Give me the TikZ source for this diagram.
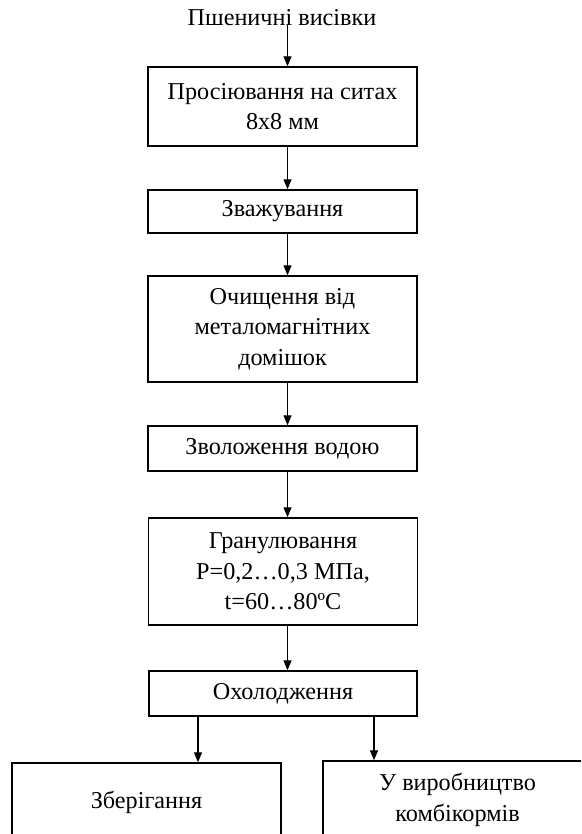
\documentclass[tikz,border=0pt]{standalone}
\usepackage{fontspec}
\setmainfont{Liberation Serif}
\usetikzlibrary{arrows.meta}
\begin{document}
\begin{tikzpicture}[x=1pt,y=-1pt,
  txt/.style={font=\fontsize{24.2}{30.5}\selectfont, align=center, inner sep=0pt},
  box/.style={txt, draw, line width=1.4pt, minimum width=269pt},
  arr/.style={line width=1.2pt, -{Triangle[width=8pt,length=10pt]}}]
\useasboundingbox (0,0) rectangle (581,834);
\clip (0,0) rectangle (581,834);
\fill[white] (0,0) rectangle (581,834);
\coordinate (ax) at (287.5,0);
\coordinate (lx) at (198,0);
\coordinate (rx) at (374,0);
\coordinate (s0) at (287.5,25);
\node[txt] (t) at (282,18) {Пшеничні висівки};
\node[box, minimum height=79pt] (b1) at (282.5,106.5) {Просіювання на ситах\\8х8 мм};
\node[box, minimum height=43pt] (b2) at (282.5,211.5) {Зважування};
\node[box, minimum height=106pt] (b3) at (282.5,329) {Очищення від\\металомагнітних\\домішок};
\node[box, minimum height=45pt] (b4) at (282.5,448.5) {Зволоження водою};
\node[box, minimum height=107pt] (b5) at (283,571.5) {Гранулювання\\P=0,2\dots0,3 МПа,\\t=60\dots80ºС};
\node[box, minimum height=45pt, minimum width=268pt] (b6) at (283,693.5) {Охолодження};
\node[box, minimum height=78pt] (b7) at (146.5,802) {Зберігання};
\node[box, minimum height=78pt] (b8) at (457.5,800) {У виробництво\\комбікормів};
\draw[arr] (s0) -- (b1.north -| ax);
\draw[arr] (b1.south -| ax) -- (b2.north -| ax);
\draw[arr] (b2.south -| ax) -- (b3.north -| ax);
\draw[arr] (b3.south -| ax) -- (b4.north -| ax);
\draw[arr] (b4.south -| ax) -- (b5.north -| ax);
\draw[arr] (b5.south -| ax) -- (b6.north -| ax);
\draw[arr] (b6.south -| lx) -- (b7.north -| lx);
\draw[arr] (b6.south -| rx) -- (b8.north -| rx);
\end{tikzpicture}
\end{document}
